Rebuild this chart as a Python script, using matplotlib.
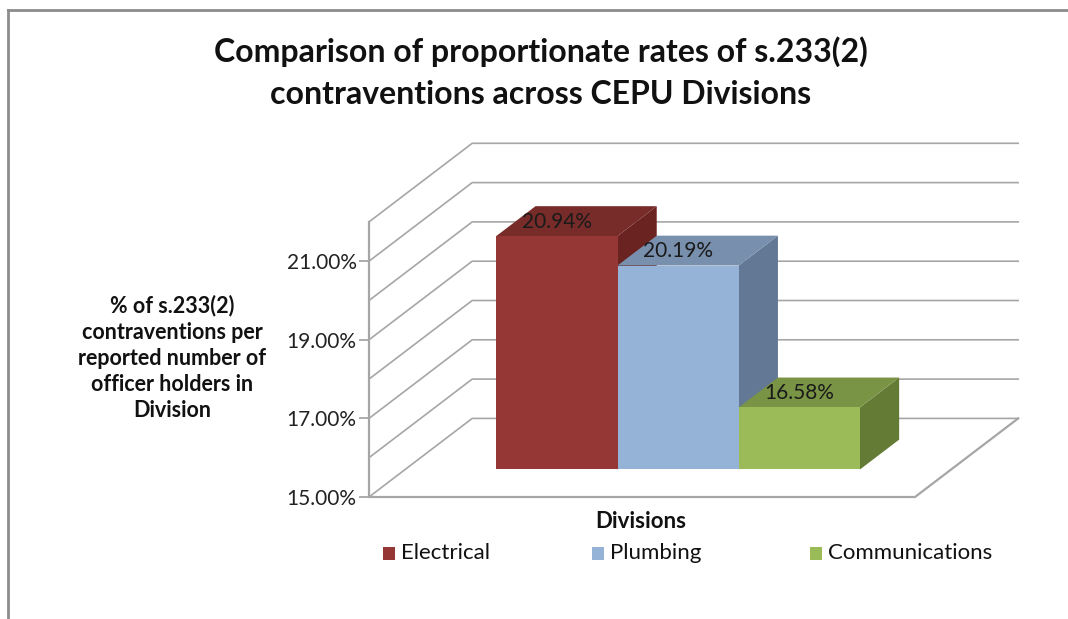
import matplotlib
matplotlib.use("Agg")
import matplotlib.pyplot as plt
from matplotlib.patches import Polygon, Rectangle
from matplotlib.lines import Line2D

# Data
divisions = ["Electrical", "Plumbing", "Communications"]
rates = [20.94, 20.19, 16.58]
rate_labels = ["20.94%", "20.19%", "16.58%"]
yticks = [15, 17, 19, 21]
ytick_labels = ["15.00%", "17.00%", "19.00%", "21.00%"]
grid_levels = [15, 16, 17, 18, 19, 20, 21, 22]

# colours: front, top, side
front_cols = ["#953735", "#95b3d7", "#9bbb59"]
top_cols = ["#772c2a", "#7890ad", "#7a9446"]
side_cols = ["#6b2321", "#627894", "#647b36"]

plt.rcParams["font.family"] = ["Lato", "DejaVu Sans"]

W, H = 1068, 619
fig = plt.figure(figsize=(W / 100, H / 100), dpi=100)

# pseudo-3D geometry (x: floor fraction, y: percent)
base = 15
DX, DY = 0.189, 2.0        # depth vector of the box
z0, z1 = 0.35, 0.73        # bar depth range
bw = 0.222                 # bar width
gx0 = 0.5 - 1.5 * bw

# place axes so that x=0 -> px 369, x=1 -> px 915, y=15 -> px 497, 1% = 39.3 px
px0, pxw, py15, ppp = 369, 546, 497, 39.3
xlim = (0, 1.25)
ylim = (14.6, 24.4)
left = px0 / W
width = (xlim[1] - xlim[0]) * pxw / W
bottom_px = py15 + (base - ylim[0]) * ppp
top_px = py15 - (ylim[1] - base) * ppp
ax = fig.add_axes([left, (H - bottom_px) / H, width, (bottom_px - top_px) / H])
ax.set_xlim(*xlim)
ax.set_ylim(*ylim)
ax.patch.set_alpha(0)

line_col = "#a6a6a6"

# gridlines on the side and back walls
for v in grid_levels:
    ax.plot([0, DX, 1 + DX], [v, v + DY, v + DY], color=line_col, lw=1.2, zorder=1)

# floor front and right edge
ax.plot([0, 1, 1 + DX], [base, base, base + DY], color=line_col, lw=1.6, zorder=1)

def proj(x, y, z):
    return (x + z * DX, y + z * DY)

for i, v in enumerate(rates):
    x0 = gx0 + i * bw
    x1 = x0 + bw
    front = [proj(x0, base, z0), proj(x1, base, z0), proj(x1, v, z0), proj(x0, v, z0)]
    top = [proj(x0, v, z0), proj(x1, v, z0), proj(x1, v, z1), proj(x0, v, z1)]
    side = [proj(x1, base, z0), proj(x1, base, z1), proj(x1, v, z1), proj(x1, v, z0)]
    ax.add_patch(Polygon(side, closed=True, facecolor=side_cols[i], edgecolor="none", zorder=3 + i))
    ax.add_patch(Polygon(top, closed=True, facecolor=top_cols[i], edgecolor="none", zorder=3 + i))
    ax.add_patch(Polygon(front, closed=True, facecolor=front_cols[i], edgecolor="none", zorder=3 + i))
    lx, ly = proj((x0 + x1) / 2, v, z0)
    ax.annotate(rate_labels[i], (lx, ly), xytext=(0, 3), textcoords="offset points",
                ha="center", va="bottom", fontsize=15, color="#1a1a1a", zorder=10)

# axis styling
for s in ["top", "right", "bottom"]:
    ax.spines[s].set_visible(False)
ax.spines["left"].set_bounds(15, 22)
ax.spines["left"].set_color(line_col)
ax.spines["left"].set_linewidth(1.6)
ax.set_yticks(yticks)
ax.set_yticklabels(ytick_labels, fontsize=15, color="#222222")
ax.tick_params(axis="y", length=7, width=1.3, color=line_col, pad=2)
ax.set_xticks([])

# titles and labels
fig.text(541 / W, 1 - 52 / H, "Comparison of proportionate rates of s.233(2)",
         ha="center", va="center", fontsize=23, fontweight="bold", color="#111111")
fig.text(541 / W, 1 - 95 / H, "contraventions across CEPU Divisions",
         ha="center", va="center", fontsize=23, fontweight="bold", color="#111111")
fig.text(172 / W, 1 - 358 / H,
         "% of s.233(2)\ncontraventions per\nreported number of\nofficer holders in\nDivision",
         ha="center", va="center", fontsize=15.5, fontweight="bold", color="#111111",
         linespacing=1.3)
fig.text(641 / W, 1 - 522 / H, "Divisions", ha="center", va="center",
         fontsize=16, fontweight="bold", color="#111111")

# legend entries
legend_x = [383, 592, 810]
for name, c, x in zip(divisions, front_cols, legend_x):
    fig.add_artist(Rectangle((x / W, 1 - 560 / H), 12 / W, 13 / H, facecolor=c,
                             edgecolor="none", transform=fig.transFigure))
    fig.text((x + 18) / W, 1 - 553 / H, name, ha="left", va="center",
             fontsize=16, color="#111111")

# chart area border (top and left visible)
fig.add_artist(Line2D([8 / W, 8 / W], [0, 1 - 10 / H], color="#8c8c8c", lw=2))
fig.add_artist(Line2D([8 / W, 1], [1 - 10 / H, 1 - 10 / H], color="#8c8c8c", lw=2))

fig.savefig("out.png", dpi=100)
